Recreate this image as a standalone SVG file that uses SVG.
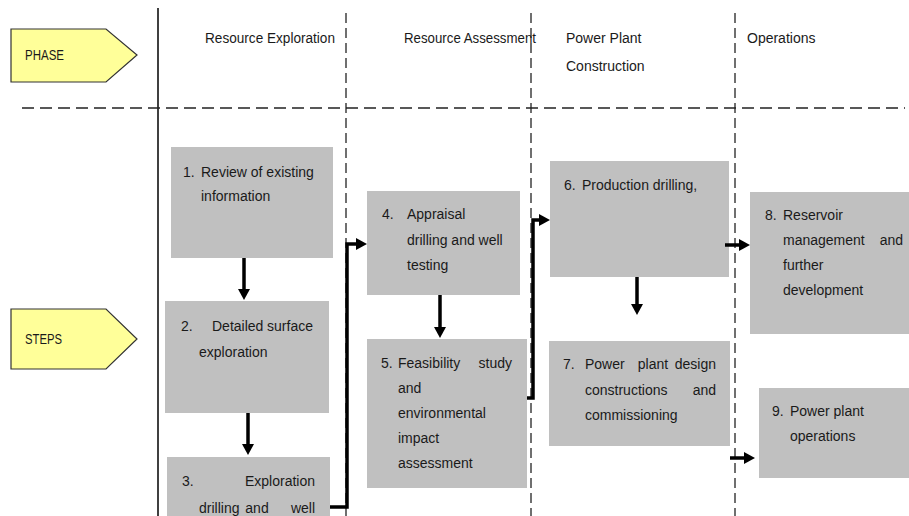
<svg xmlns="http://www.w3.org/2000/svg" width="909" height="516" viewBox="0 0 909 516">
<defs>
<style>
text{font-family:"Liberation Sans",Arial,sans-serif;font-size:14px;fill:#1a1a1a}
.box{fill:#c0c0c0}
.tag{fill:#ffff99;stroke:#333;stroke-width:1.2}
.dash{stroke:#222;stroke-width:1.4;stroke-dasharray:12,6;fill:none}
.vdash{stroke:#333;stroke-width:1.4;stroke-dasharray:10,5;fill:none}
.arr{stroke:#000;stroke-width:3.5;fill:none;stroke-linejoin:miter;marker-end:url(#ah)}
.e{text-anchor:end}
</style>
<marker id="ah" viewBox="0 0 11 12" refX="2" refY="6" markerWidth="11" markerHeight="12" markerUnits="userSpaceOnUse" orient="auto">
<path d="M0,0 L11,6 L0,12 z" fill="#000"/>
</marker>
</defs>
<rect width="909" height="516" fill="#fff"/>

<g id="grid">
<line x1="158" y1="8" x2="158" y2="516" stroke="#000" stroke-width="1.5"/>
<line class="vdash" x1="346" y1="13" x2="346" y2="516"/>
<line class="vdash" x1="531" y1="13" x2="531" y2="516"/>
<line class="vdash" x1="735" y1="13" x2="735" y2="516"/>
<line class="dash" x1="22" y1="108" x2="905" y2="108"/>
</g>

<g id="phase">
<polygon class="tag" points="11,29 106,29 137,55 106,82 11,82"/>
<text x="25" y="60" textLength="39" lengthAdjust="spacingAndGlyphs" font-size="13">PHASE</text>
</g>
<g id="steps">
<polygon class="tag" points="11,309 106,309 137,339 106,369 11,369"/>
<text x="25" y="344" textLength="37" lengthAdjust="spacingAndGlyphs" font-size="13">STEPS</text>
</g>

<g id="headers">
<text x="205" y="43" textLength="130" lengthAdjust="spacingAndGlyphs">Resource Exploration</text>
<text x="404" y="43" textLength="132" lengthAdjust="spacingAndGlyphs">Resource Assessment</text>
<text x="566" y="43">Power Plant</text>
<text x="566" y="71">Construction</text>
<text x="747" y="43">Operations</text>
</g>

<g id="step1">
<rect class="box" x="171" y="147" width="162" height="111"/>
<text x="183" y="177">1.</text>
<text x="201" y="177">Review of existing</text>
<text x="201" y="201">information</text>
</g>

<g id="step2">
<rect class="box" x="165" y="301" width="164" height="112"/>
<text x="181" y="331">2.</text>
<text x="212" y="331">Detailed</text>
<text class="e" x="313" y="331">surface</text>
<text x="199" y="357">exploration</text>
</g>

<g id="step3">
<rect class="box" x="167" y="457" width="163" height="62"/>
<text x="182" y="486">3.</text>
<text class="e" x="315" y="486">Exploration</text>
<text x="199" y="513">drilling</text>
<text x="257" y="513" text-anchor="middle">and</text>
<text class="e" x="315" y="513">well</text>
</g>

<g id="step4">
<rect class="box" x="367" y="191" width="153" height="104"/>
<text x="382" y="219">4.</text>
<text x="407" y="219">Appraisal</text>
<text x="407" y="245">drilling and well</text>
<text x="407" y="270">testing</text>
</g>

<g id="step5">
<rect class="box" x="367" y="339" width="160" height="149"/>
<text x="381" y="368">5.</text>
<text x="398" y="368">Feasibility</text>
<text class="e" x="512" y="368">study</text>
<text x="398" y="393">and</text>
<text x="398" y="418">environmental</text>
<text x="398" y="443">impact</text>
<text x="398" y="468">assessment</text>
</g>

<g id="step6">
<rect class="box" x="550" y="161" width="179" height="116"/>
<text x="564" y="190">6.</text>
<text x="582" y="190">Production drilling,</text>
</g>

<g id="step7">
<rect class="box" x="549" y="341" width="181" height="105"/>
<text x="563" y="369">7.</text>
<text x="585" y="369">Power</text>
<text x="653" y="369" text-anchor="middle">plant</text>
<text class="e" x="716" y="369">design</text>
<text x="585" y="395">constructions</text>
<text class="e" x="716" y="395">and</text>
<text x="585" y="420">commissioning</text>
</g>

<g id="step8">
<rect class="box" x="750" y="192" width="159" height="142"/>
<text x="765" y="220">8.</text>
<text x="783" y="220">Reservoir</text>
<text x="783" y="245">management</text>
<text class="e" x="903" y="245">and</text>
<text x="783" y="270">further</text>
<text x="783" y="295">development</text>
</g>

<g id="step9">
<rect class="box" x="759" y="388" width="150" height="90"/>
<text x="772" y="416">9.</text>
<text x="790" y="416">Power plant</text>
<text x="790" y="441">operations</text>
</g>

<g id="connectors">
<path class="arr" d="M244,258 V291"/>
<path class="arr" d="M248,413 V446"/>
<path class="arr" d="M440,295 V329"/>
<path class="arr" d="M637,277 V306"/>
<path class="arr" d="M330,507 H347 V244 H358"/>
<path class="arr" d="M527,398 H533 V220 H541"/>
<path class="arr" d="M725,245 H741"/>
<path class="arr" d="M730,458 H746"/>
</g>
</svg>
